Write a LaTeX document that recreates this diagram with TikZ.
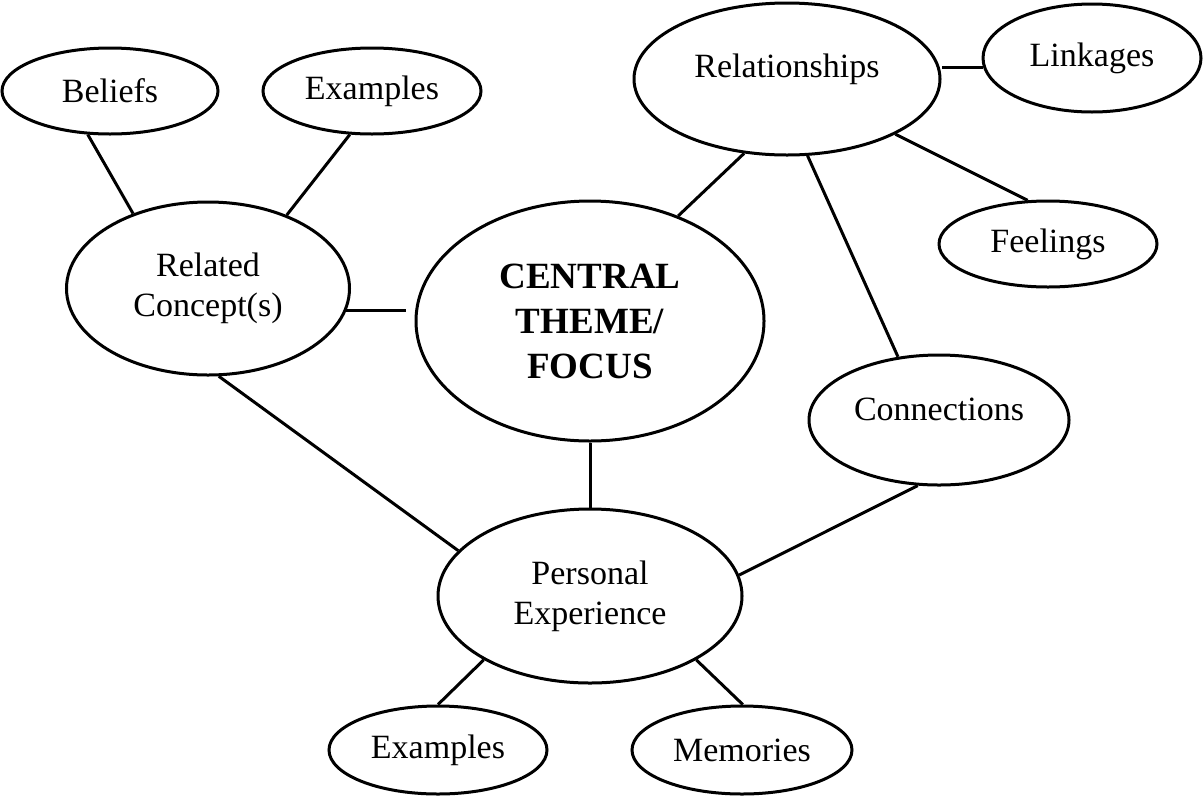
\documentclass[tikz,border=0pt]{standalone}
\usepackage{fontspec}
\setmainfont{Liberation Serif}
\usetikzlibrary{shapes.geometric}
\begin{document}
\begin{tikzpicture}[x=1pt,y=-1pt,
  bub/.style={ellipse,draw,line width=3pt,inner sep=0pt,align=center,
              font=\fontsize{34}{40}\selectfont},
  hub/.style={bub,font=\bfseries\fontsize{37}{45}\selectfont},
  link/.style={line width=3pt}]
\useasboundingbox (0,0) rectangle (1204,796);
% nodes
\node[bub,minimum width=216pt,minimum height=86pt] (bel) at (110,91) {Beliefs};
\node[bub,minimum width=218pt,minimum height=86pt] (exa) at (372,91) {Examples};
\node[bub,minimum width=283pt,minimum height=173pt] (rel) at (208,288.5) {Related\\Concept(s)};
\node[hub,minimum width=348pt,minimum height=240pt] (cen) at (590,321) {CENTRAL\\THEME/\\FOCUS};
\node[bub,minimum width=306pt,minimum height=152pt,text height=24pt,text depth=28pt] (rsh) at (787,79) {Relationships};
\node[bub,minimum width=218pt,minimum height=108pt] (lnk) at (1092,58) {Linkages};
\node[bub,minimum width=218pt,minimum height=86pt] (fel) at (1048,244) {Feelings};
\node[bub,minimum width=260pt,minimum height=130pt,text height=22pt,text depth=22pt] (con) at (939,420) {Connections};
\node[bub,minimum width=304pt,minimum height=174pt] (per) at (590,596) {Personal\\Experience};
\node[bub,minimum width=218pt,minimum height=88pt] (exb) at (438,750) {Examples};
\node[bub,minimum width=220pt,minimum height=88pt] (mem) at (742,750) {Memories};
% connectors
\draw[link] (bel.243.4) -- (rel.135.8);
\draw[link] (exa.243.4) -- (rel.43.5);
\draw[link,shorten >=9pt] (rel.-9.1) -- (rel.-9.1 -| cen.west);
\draw[link] (lnk.185.8) -- (lnk.185.8 -| rsh.east);
\draw[link] (rsh.240.6) -- (cen.50);
\draw[link] (rsh.285.1) -- (con.123.5);
\draw[link] (rsh.-27) -- (fel.115.5);
\draw[link] (cen.270) -- (per.90);
\draw[link] (rel.277.7) -- (per.161.2);
\draw[link] (per.8.2) -- (con.252.6);
\draw[link] (per.211.8) -- (exb.90);
\draw[link] (per.329) -- (mem.89);
\end{tikzpicture}
\end{document}
